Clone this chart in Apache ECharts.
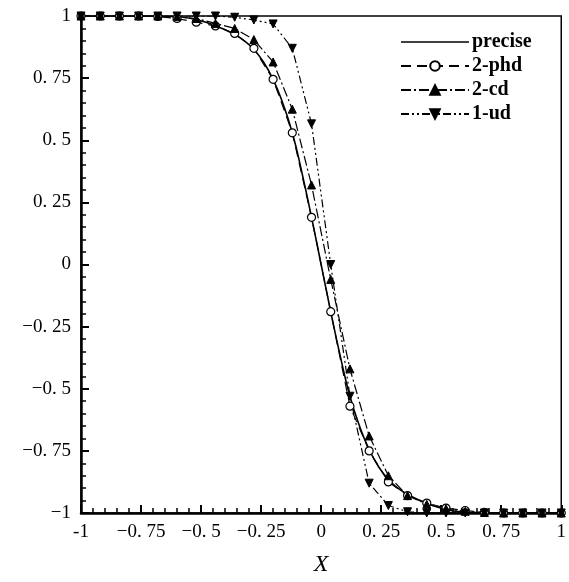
<!DOCTYPE html>
<html>
<head>
<meta charset="utf-8">
<script src="https://cdn.jsdelivr.net/npm/echarts@6/dist/echarts.min.js"></script>
<style>
  html, body { margin: 0; padding: 0; background: #fff; }
  #chart { width: 569px; height: 582px; }
</style>
</head>
<body>
<div id="chart"></div>
<script>
// exact solution, read every 0.04
var xPrecise = [-1, -0.96, -0.92, -0.88, -0.84, -0.8, -0.76, -0.72, -0.68, -0.64, -0.6,
  -0.56, -0.52, -0.48, -0.44, -0.4, -0.36, -0.32, -0.28, -0.24, -0.2, -0.16, -0.12, -0.08, -0.04,
  0, 0.04, 0.08, 0.12, 0.16, 0.2, 0.24, 0.28, 0.32, 0.36, 0.4, 0.44, 0.48, 0.52, 0.56,
  0.6, 0.64, 0.68, 0.72, 0.76, 0.8, 0.84, 0.88, 0.92, 0.96, 1]
var yPrecise = [1, 1, 1, 1, 1, 1, 1, 1, 0.999, 0.998, 0.997,
  0.993, 0.985, 0.975, 0.96, 0.945, 0.925, 0.9, 0.865, 0.815, 0.745, 0.65, 0.53, 0.37, 0.19,
  0, -0.19, -0.37, -0.53, -0.65, -0.745, -0.815, -0.865, -0.9, -0.925, -0.945, -0.96, -0.975, -0.985, -0.993,
  -0.997, -0.998, -0.999, -1, -1, -1, -1, -1, -1, -1, -1]

// grid nodes of the schemes (step 0.08)
var xNodes = [-1, -0.92, -0.84, -0.76, -0.68, -0.6, -0.52, -0.44, -0.36, -0.28, -0.2, -0.12, -0.04,
  0.04, 0.12, 0.2, 0.28, 0.36, 0.44, 0.52, 0.6, 0.68, 0.76, 0.84, 0.92, 1]
var yPhd = [1, 1, 1, 1, 0.998, 0.99, 0.975, 0.96, 0.93, 0.87, 0.745, 0.53, 0.19,
  -0.19, -0.57, -0.75, -0.875, -0.93, -0.96, -0.98, -0.99, -0.997, -1, -1, -1, -1]
var yCd = [1, 1, 1, 1, 1, 0.997, 0.99, 0.97, 0.95, 0.905, 0.815, 0.625, 0.32,
  -0.06, -0.42, -0.69, -0.85, -0.93, -0.965, -0.983, -0.993, -0.998, -1, -1, -1, -1]
var yUd = [1, 1, 1, 1, 1, 1, 1, 1, 0.995, 0.984, 0.968, 0.87, 0.566,
  0, -0.53, -0.88, -0.97, -0.995, -1, -1, -1, -1, -1, -1, -1, -1]

var seriesNames = ['precise', '2-phd', '2-cd', '1-ud']

function pairs(xs, ys) {
  return xs.map(function(x, i) { return [x, ys[i]] })
}

function tickText(v, isX) {
  if (v === 0) return '0'
  if (isX && v === -1) return '-1'
  return String(v).replace('-', '\u2212').replace('.', '. ')
}

var chart = echarts.init(document.getElementById('chart'))
var labelFont = { fontFamily: 'Liberation Serif', fontSize: 19, color: '#000' }

function axisCommon(fmt) {
  return {
    type: 'value',
    min: -1,
    max: 1,
    interval: 0.25,
    axisLine: { onZero: false, lineStyle: { color: '#000', width: 2.5 } },
    axisTick: { inside: true, length: 8, lineStyle: { color: '#000', width: 2 } },
    minorTick: { show: true, splitNumber: 5, length: 5, lineStyle: { color: '#000', width: 1.5 } },
    splitLine: { show: false },
    axisLabel: Object.assign({ margin: 10, formatter: fmt }, labelFont)
  }
}

var xAxis = axisCommon(function(v) { return tickText(v, true) })
xAxis.name = 'X'
xAxis.nameLocation = 'middle'
xAxis.nameGap = 40
xAxis.nameTextStyle = { fontFamily: 'Liberation Serif', fontStyle: 'italic', fontSize: 24, color: '#000' }

chart.setOption({
  animation: false,
  backgroundColor: '#fff',
  grid: {
    left: 81,
    right: 7,
    top: 16,
    bottom: 59,
    show: true,
    borderColor: '#000',
    borderWidth: 1.5
  },
  legend: {
    data: [
      { name: 'precise', icon: 'path://M0,0 L68,0 L68,1.6 L0,1.6 Z' },
      '2-phd', '2-cd', '1-ud'
    ],
    orient: 'vertical',
    left: 395,
    top: 27,
    itemWidth: 68,
    itemHeight: 12,
    itemGap: 4,
    textStyle: {
      fontFamily: 'Liberation Serif',
      fontWeight: 'bold',
      fontSize: 20,
      lineHeight: 20,
      color: '#000',
      padding: [0, 0, 0, -2]
    }
  },
  xAxis: xAxis,
  yAxis: axisCommon(function(v) { return tickText(v, false) }),
  series: [
    {
      name: seriesNames[0],
      type: 'line',
      data: pairs(xPrecise, yPrecise),
      smooth: true,
      showSymbol: false,
      symbol: 'none',
      lineStyle: { color: '#000', width: 1.6, type: 'solid' },
      itemStyle: { color: '#000' }
    },
    {
      name: seriesNames[1],
      type: 'line',
      data: pairs(xNodes, yPhd),
      symbol: 'circle',
      symbolSize: 8,
      lineStyle: { color: '#000', width: 1.2, type: [10, 6] },
      itemStyle: { color: '#fff', borderColor: '#000', borderWidth: 1.2 }
    },
    {
      name: seriesNames[2],
      type: 'line',
      data: pairs(xNodes, yCd),
      symbol: 'triangle',
      symbolSize: 8,
      lineStyle: { color: '#000', width: 1.2, type: [10, 3, 2, 3] },
      itemStyle: { color: '#000', borderColor: '#000', borderWidth: 1 }
    },
    {
      name: seriesNames[3],
      type: 'line',
      data: pairs(xNodes, yUd),
      symbol: 'path://M0,0 L10,0 L5,9 Z',
      symbolSize: 8,
      lineStyle: { color: '#000', width: 1.2, type: [8, 3, 2, 3, 2, 3] },
      itemStyle: { color: '#000', borderColor: '#000', borderWidth: 1 }
    }
  ]
})
</script>
</body>
</html>
